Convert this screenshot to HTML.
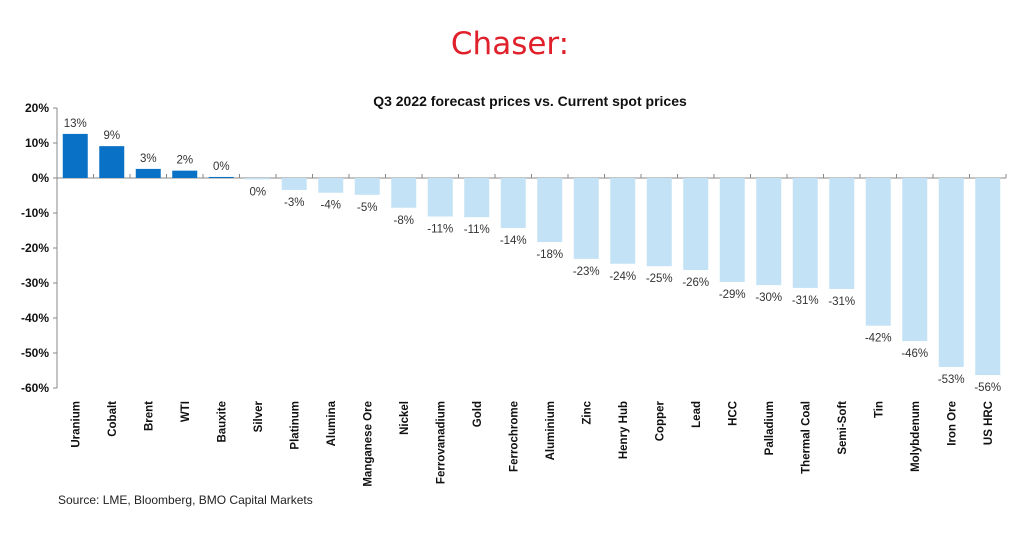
<!DOCTYPE html>
<html><head><meta charset="utf-8"><style>
body{margin:0;background:#fff;width:1024px;height:528px;overflow:hidden;font-family:"Liberation Sans",sans-serif}
</style></head><body>
<svg id="chart" width="1024" height="528" xmlns="http://www.w3.org/2000/svg">
<text x="510" y="54" text-anchor="middle" fill="#e0202a" font-size="31" font-family="'Comic Sans MS','DejaVu Sans',sans-serif">Chaser:</text>
<text x="530" y="106" text-anchor="middle" fill="#111" font-size="14" font-weight="bold">Q3 2022 forecast prices vs. Current spot prices</text>
<text x="58" y="504" fill="#222" font-size="12">Source: LME, Bloomberg, BMO Capital Markets</text>
<g id="plot"></g>
</svg>
<script>
const categories=["Uranium","Cobalt","Brent","WTI","Bauxite","Silver","Platinum","Alumina","Manganese Ore","Nickel","Ferrovanadium","Gold","Ferrochrome","Aluminium","Zinc","Henry Hub","Copper","Lead","HCC","Palladium","Thermal Coal","Semi-Soft","Tin","Molybdenum","Iron Ore","US HRC"];
const values=[12.6,9.1,2.6,2.1,0.3,-0.4,-3.4,-4.2,-4.8,-8.5,-11,-11.2,-14.3,-18.3,-23.1,-24.5,-25.2,-26.3,-29.7,-30.6,-31.4,-31.7,-42.2,-46.6,-54,-56.3];
const valueLabels=["13%","9%","3%","2%","0%","0%","-3%","-4%","-5%","-8%","-11%","-11%","-14%","-18%","-23%","-24%","-25%","-26%","-29%","-30%","-31%","-31%","-42%","-46%","-53%","-56%"];
const yTicks=[20,10,0,-10,-20,-30,-40,-50,-60];
const yTickLabels=["20%","10%","0%","-10%","-20%","-30%","-40%","-50%","-60%"];
const NS="http://www.w3.org/2000/svg";
const g=document.getElementById('plot');
const x0=57,step=36.5,bw=25;
const y=v=>178-v*3.5;
const xc=i=>x0+step*(i+0.5);
function mk(t,a){const e=document.createElementNS(NS,t);for(const k in a)e.setAttribute(k,a[k]);g.appendChild(e);return e;}
const ax=mk('line',{x1:x0,x2:x0,y1:y(20),y2:y(-60),stroke:'#888'});


yTicks.forEach((t,i)=>{
 const l=mk('line',{x1:x0-4,x2:x0,y1:y(t),y2:y(t),stroke:'#888'});
 
 
 const tx=mk('text',{x:x0-8,y:y(t)+4,'text-anchor':'end','font-size':12,'font-weight':'bold',fill:'#111'});
 tx.textContent=yTickLabels[i];
 
 
});
const zl=mk('line',{x1:x0,x2:x0+step*categories.length,y1:y(0),y2:y(0),stroke:'#888'});


for(let i=0;i<=categories.length;i++){
 const t=mk('line',{x1:x0+step*i,x2:x0+step*i,y1:y(0),y2:y(0)-4,stroke:'#888'});
 
 
}
categories.forEach((c,i)=>{
 const v=values[i];
 const r=mk('rect',{x:xc(i)-bw/2,width:bw,y:Math.min(y(v),y(0)),height:Math.abs(y(v)-y(0)),fill:v>=0?'#0a72c6':'#c3e2f6'});
 
 
 const lt=mk('text',{x:xc(i),y:v>=0?y(v)-7:y(v)+16,'text-anchor':'middle','font-size':11.5,fill:'#333'});
 lt.textContent=valueLabels[i];
 
 
 const ct=mk('text',{x:0,y:0,'text-anchor':'end','font-size':11.5,'font-weight':'bold',fill:'#111',transform:`translate(${xc(i)+4},401) rotate(-90)`});
 ct.textContent=c;
 
 
});
</script>
</body></html>
